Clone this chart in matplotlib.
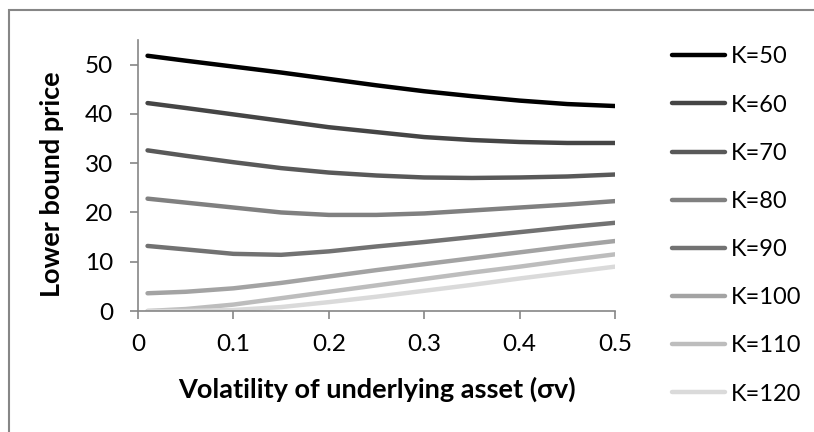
import matplotlib
matplotlib.use("Agg")
import matplotlib.pyplot as plt
from matplotlib.patches import Rectangle

plt.rcParams['font.family'] = ['Lato', 'DejaVu Sans']

sigma = [0.01, 0.05, 0.10, 0.15, 0.20, 0.25, 0.30, 0.35, 0.40, 0.45, 0.50]
labels = ["K=50", "K=60", "K=70", "K=80", "K=90", "K=100", "K=110", "K=120"]
k50 = [51.8, 50.8, 49.6, 48.4, 47.1, 45.8, 44.6, 43.6, 42.7, 42.0, 41.6]
k60 = [42.2, 41.2, 39.9, 38.6, 37.3, 36.3, 35.3, 34.7, 34.3, 34.1, 34.1]
k70 = [32.6, 31.5, 30.2, 29.0, 28.1, 27.5, 27.1, 27.0, 27.1, 27.3, 27.7]
k80 = [22.8, 22.0, 21.0, 20.0, 19.5, 19.5, 19.8, 20.4, 21.0, 21.6, 22.3]
k90 = [13.2, 12.5, 11.6, 11.4, 12.1, 13.1, 14.0, 15.0, 16.0, 17.0, 17.9]
k100 = [3.6, 3.9, 4.6, 5.7, 7.0, 8.3, 9.5, 10.7, 11.9, 13.1, 14.2]
k110 = [0.0, 0.4, 1.3, 2.6, 3.9, 5.2, 6.5, 7.8, 9.0, 10.3, 11.5]
k120 = [0.0, 0.0, 0.2, 0.8, 1.8, 2.9, 4.1, 5.3, 6.6, 7.8, 9.0]
series = [k50, k60, k70, k80, k90, k100, k110, k120]
colors = ["#000000", "#454545", "#595959", "#808080", "#727272", "#a3a3a3", "#bdbdbd", "#dadada"]

W, H = 814, 432
fig = plt.figure(figsize=(W / 100, H / 100), dpi=100)
fig.patches.append(Rectangle((8.5 / W, -0.1), 1.2, 1.1 - 10.5 / H, transform=fig.transFigure,
                             fill=False, edgecolor="#868686", linewidth=1.5))

ax = fig.add_axes([138 / W, 1 - 311 / H, (615 - 138) / W, (311 - 40) / H])
for ys, lab, c in zip(series, labels, colors):
    ax.plot(sigma, ys, color=c, linewidth=3.2, label=lab, solid_capstyle='round', solid_joinstyle='round')

ax.set_xlim(0, 0.5)
ax.set_ylim(0, 55)
ax.set_xticks([0, 0.1, 0.2, 0.3, 0.4, 0.5])
ax.set_xticklabels(["0", "0.1", "0.2", "0.3", "0.4", "0.5"])
ax.set_yticks([0, 10, 20, 30, 40, 50])
for s in ["top", "right"]:
    ax.spines[s].set_visible(False)
for s in ["left", "bottom"]:
    ax.spines[s].set_color("#868686")
    ax.spines[s].set_linewidth(1.2)
ax.tick_params(axis='both', colors="#868686", labelcolor="black", labelsize=17.5, length=5.8, width=1.2)
ax.tick_params(axis='x', pad=11)
ax.tick_params(axis='y', pad=12)

ax.set_xlabel("Volatility of underlying asset (σv)", fontsize=19.5, fontweight='bold')
ax.xaxis.set_label_coords(0.5, (311 - 389) / 271, transform=ax.transAxes)
ax.xaxis.label.set_va('center')
fig.text(52 / W, 1 - 184 / H, "Lower bound price", rotation=90, ha='center', va='center',
         fontsize=19.5, fontweight='bold')

fig.legend(loc='center left', bbox_to_anchor=(672 / W, 1 - 225.5 / H), frameon=False,
           fontsize=17, handlelength=2.25, handletextpad=0.25, labelspacing=1.15,
           borderpad=0, borderaxespad=0)

fig.savefig("out.png", dpi=100)
